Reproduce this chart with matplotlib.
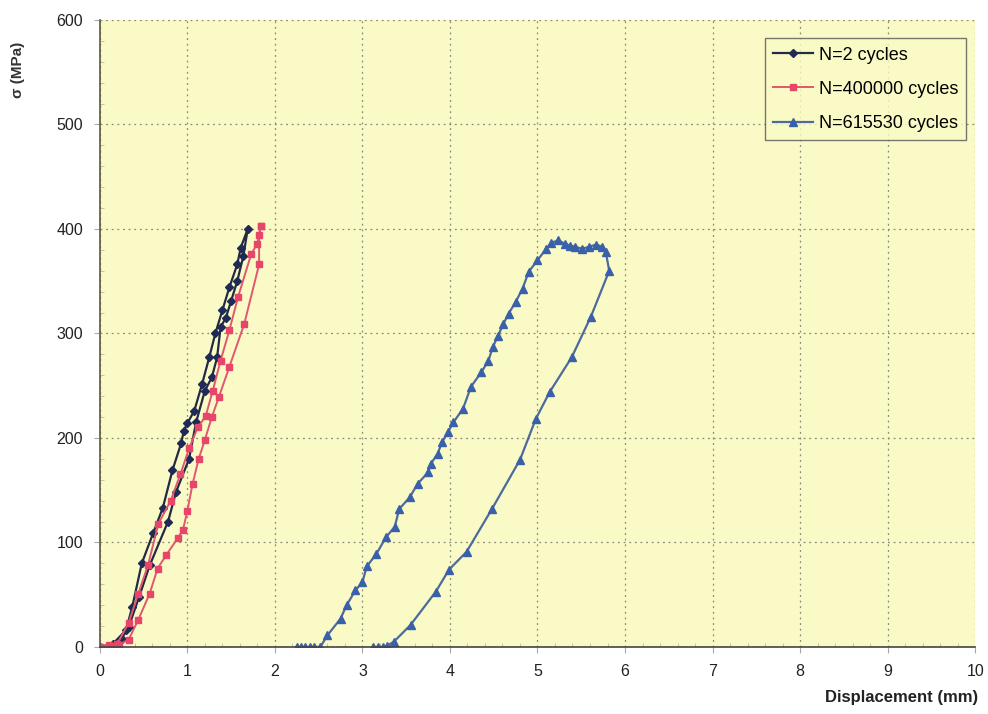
import matplotlib.pyplot as plt
from matplotlib.ticker import MultipleLocator

plt.rcParams['font.family'] = ['Liberation Sans', 'DejaVu Sans']

# N=2 cycles: up one branch, down the other
n2_x = [0.0, 0.15, 0.30, 0.37, 0.48, 0.61, 0.72, 0.83, 0.93, 0.96, 1.0, 1.08, 1.17, 1.25, 1.32,
        1.40, 1.48, 1.57, 1.61, 1.69,
        1.64, 1.57, 1.50, 1.44, 1.38, 1.34, 1.28, 1.20, 1.10, 1.02, 0.87, 0.78, 0.57, 0.45, 0.33, 0.25]
n2_y = [0, 3, 16, 38, 80, 109, 133, 169, 195, 207, 214, 226, 252, 277, 300,
        322, 344, 366, 382, 400,
        374, 350, 331, 315, 306, 277, 258, 245, 215, 180, 148, 120, 78, 48, 19, 8]

# N=400000 cycles
n4_x = [0.0, 0.10, 0.20, 0.33, 0.44, 0.55, 0.67, 0.81, 0.92, 1.02, 1.12, 1.21, 1.29, 1.38, 1.48,
        1.58, 1.73, 1.80, 1.84,
        1.84, 1.82, 1.82, 1.65, 1.48, 1.36, 1.28, 1.20, 1.13, 1.06, 1.0, 0.95, 0.89, 0.76, 0.66,
        0.57, 0.44, 0.33, 0.22, 0.10, 0.0]
n4_y = [0, 2, 3, 23, 51, 78, 118, 140, 165, 190, 210, 221, 245, 274, 303,
        335, 376, 386, 403,
        403, 394, 366, 309, 268, 239, 220, 198, 180, 156, 130, 112, 104, 88, 75,
        51, 26, 7, 2, 0, 0]

# N=615530 cycles
n6_x = [2.25, 2.30, 2.35, 2.40, 2.45, 2.52, 2.60, 2.75, 2.82, 2.92, 3.0, 3.05, 3.16, 3.27, 3.37,
        3.42, 3.54, 3.63, 3.75, 3.78, 3.86, 3.91, 3.98, 4.04, 4.15, 4.24, 4.36, 4.44, 4.49, 4.55,
        4.61, 4.67, 4.75, 4.83, 4.90, 5.0, 5.10, 5.16, 5.24, 5.31, 5.37, 5.43, 5.51, 5.59, 5.67,
        5.74, 5.78, 5.82,
        5.61, 5.39, 5.14, 4.98, 4.80, 4.48, 4.19, 3.99, 3.84, 3.55, 3.36, 3.28, 3.23, 3.18, 3.12]
n6_y = [0, 0, 0, 0, 0, 0, 11, 27, 40, 54, 62, 77, 89, 105, 115,
        132, 143, 156, 167, 175, 185, 196, 206, 215, 228, 249, 263, 274, 287, 298,
        309, 319, 330, 343, 359, 370, 381, 387, 389, 386, 384, 383, 381, 383, 385,
        383, 378, 360,
        316, 277, 244, 218, 179, 132, 91, 74, 53, 21, 5, 1, 0, 0, 0]

fig = plt.figure(figsize=(9.88, 7.14), dpi=100)
fig.patch.set_facecolor('white')
ax = fig.add_axes([0.101, 0.094, 0.886, 0.878])
ax.set_facecolor('#fafac6')

ax.plot(n2_x, n2_y, color='#222a44', marker='D', markersize=4.5, lw=1.6,
        markerfacecolor='#1f2a55', markeredgecolor='#1f2a55', label='N=2 cycles')
ax.plot(n4_x, n4_y, color='#e2566f', marker='s', markersize=4.5, lw=1.4,
        markerfacecolor='#e8456a', markeredgecolor='#e8456a', label='N=400000 cycles')
ax.plot(n6_x, n6_y, color='#4c6a9c', marker='^', markersize=5.5, lw=1.6,
        markerfacecolor='#3a60aa', markeredgecolor='#3a60aa', label='N=615530 cycles')

ax.set_xlim(0, 10)
ax.set_ylim(0, 600)
ax.xaxis.set_major_locator(MultipleLocator(1))
ax.yaxis.set_major_locator(MultipleLocator(100))
ax.xaxis.set_minor_locator(MultipleLocator(0.2))
ax.yaxis.set_minor_locator(MultipleLocator(20))
ax.grid(True, which='major', color='#8a8a7a', linestyle=(0, (1.5, 3)), linewidth=0.9)
ax.tick_params(which='major', direction='out', length=4, color='#aaaaaa',
               labelsize=11.5, labelcolor='#222222', pad=8)
ax.tick_params(which='minor', direction='in', length=3, color='#bbbbaa')
for s in ['top', 'right']:
    ax.spines[s].set_visible(False)
ax.spines['left'].set_color('#5a5a3a')
ax.spines['bottom'].set_color('#444444')
ax.spines['left'].set_linewidth(1.2)
ax.spines['bottom'].set_linewidth(1.2)

leg = ax.legend(loc='upper right', bbox_to_anchor=(1.0, 0.985), fontsize=13,
                frameon=True, fancybox=False, handlelength=2.2, handletextpad=0.3,
                borderpad=0.45, labelspacing=0.95)
leg.get_frame().set_edgecolor('#555555')
leg.get_frame().set_facecolor('#fafac6')
leg.get_frame().set_linewidth(1.0)

fig.text(0.99, 0.023, 'Displacement (mm)', ha='right', va='center', fontsize=12,
         fontweight='bold', color='#222222')
fig.text(0.018, 0.902, 'σ (MPa)', ha='center', va='center', rotation=90, fontsize=11,
         fontweight='bold', color='#333333')

fig.savefig('out.png', dpi=100)
